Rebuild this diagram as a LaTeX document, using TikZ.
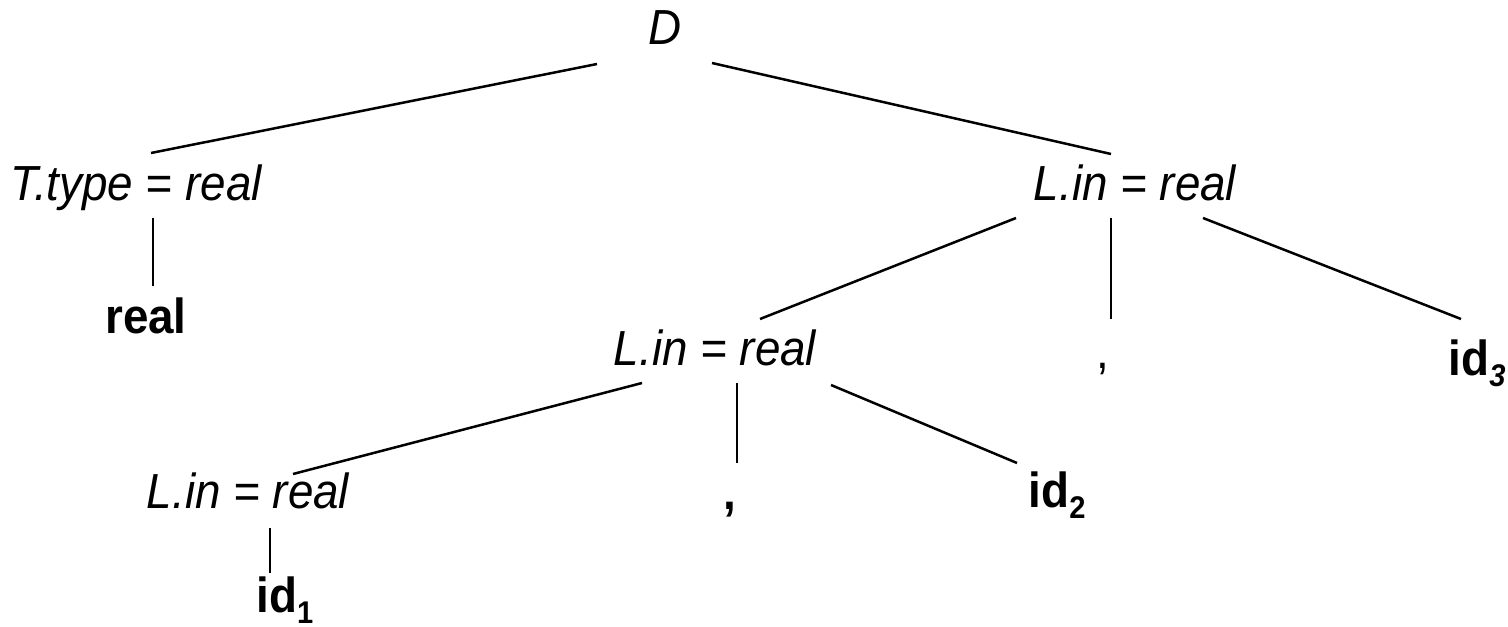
\documentclass[tikz,border=0pt]{standalone}
\usepackage{fontspec}
\usepackage{graphicx}
\setmainfont{Liberation Sans}
\usetikzlibrary{calc}
\newcommand{\tall}[1]{\scalebox{1.04}[1.12]{#1}}
\newcommand{\idsub}[2]{\tall{\textbf{id}\raisebox{-5pt}{\fontsize{14}{16}\selectfont\bfseries #1#2}}}
\tikzset{
  lbl/.style={anchor=base, inner sep=0pt, outer sep=0pt, font=\fontsize{22}{26}\selectfont},
  attr/.style={lbl, font=\fontsize{22}{26}\selectfont\itshape},
  term/.style={lbl, font=\fontsize{22}{26}\selectfont\bfseries},
  edge/.style={line width=1.25pt}
}
\begin{document}
\begin{tikzpicture}[x=0.5pt, y=-0.5pt]
\useasboundingbox (0,0) rectangle (1508,626);
% nodes
\node[attr] (D)  at (665,45)  {\tall{D}};
\node[attr] (T)  at (136,200) {\tall{T.type = real}};
\node[term] (R)  at (146,333) {\tall{real}};
\node[attr] (L1) at (1135,200) {\tall{L.in = real}};
\node[attr] (L2) at (715,365) {\tall{L.in = real}};
\node[attr] (L3) at (248,508) {\tall{L.in = real}};
\node[lbl]  (C1) at (1103,368) {\tall{,}};
\node[term] (C2) at (730,509) {\tall{,}};
\node[lbl]  (I1) at (285,612) {\idsub{}{1}};
\node[lbl]  (I2) at (1057,507) {\idsub{}{2}};
\node[lbl]  (I3) at (1477,375) {\idsub{\itshape}{3}};
% connectors
\draw[edge] ($(D.base)+(-68,19)$) -- ($(T.base)+(15,-47)$);
\draw[edge] ($(D.base)+(47,18)$) -- ($(L1.base)+(-24,-46)$);
\draw[edge] ($(T.base)+(17,18)$) -- ($(R.base)+(7,-47)$);
\draw[edge] ($(L1.base)+(-119,18)$) -- ($(L2.base)+(45,-46)$);
\draw[edge] ($(L1.base)+(-24,18)$) -- ($(C1.base)+(8,-49)$);
\draw[edge] ($(L1.base)+(68,18)$) -- ($(I3.base)+(-16,-56)$);
\draw[edge] ($(L2.base)+(-73,18)$) -- ($(L3.base)+(45,-34)$);
\draw[edge] ($(L2.base)+(22,18)$) -- ($(C2.base)+(7,-46)$);
\draw[edge] ($(L2.base)+(116,20)$) -- ($(I2.base)+(-40,-44)$);
\draw[edge] ($(L3.base)+(22,20)$) -- ($(I1.base)+(-15,-39)$);
\end{tikzpicture}
\end{document}
